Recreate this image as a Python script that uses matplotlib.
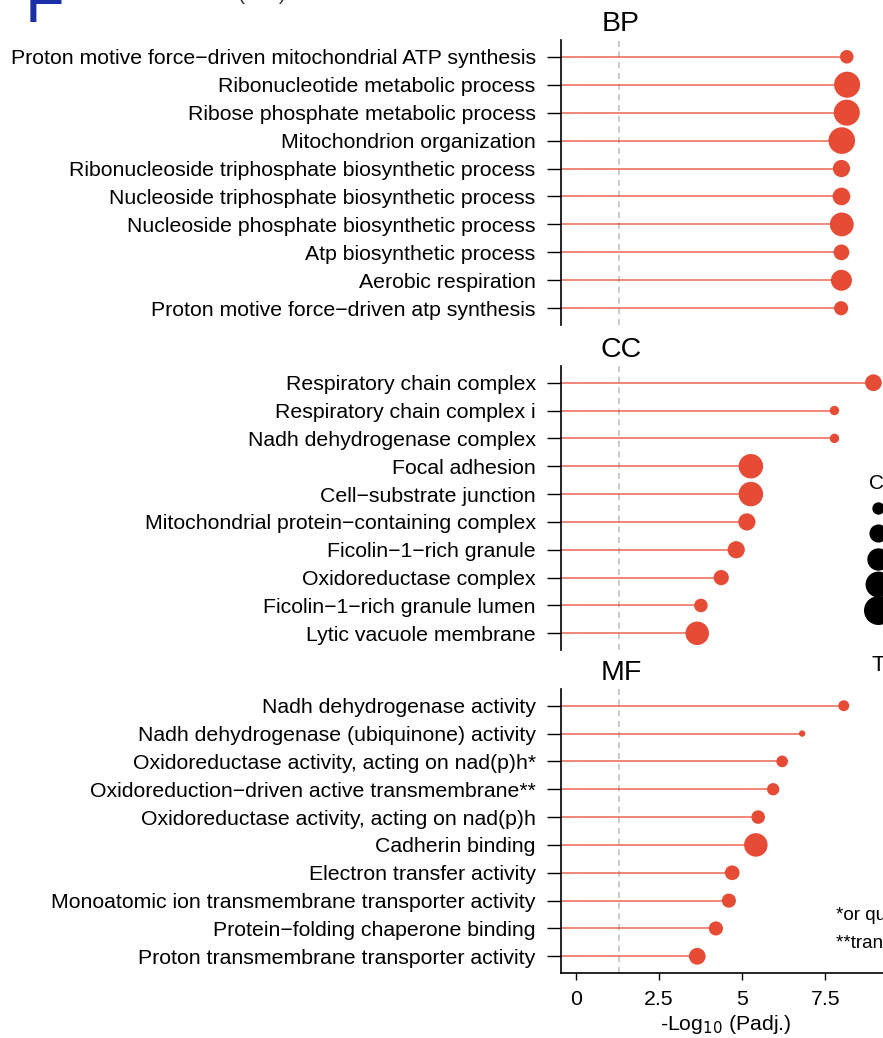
import matplotlib
matplotlib.use('Agg')
import matplotlib.pyplot as plt
from matplotlib.lines import Line2D

plt.rcParams['font.family'] = ['Liberation Sans', 'DejaVu Sans']

# GO terms (top to bottom), -log10(padj) and gene counts
bp_terms = ['Proton motive force\u2212driven mitochondrial ATP synthesis',
            'Ribonucleotide metabolic process',
            'Ribose phosphate metabolic process',
            'Mitochondrion organization',
            'Ribonucleoside triphosphate biosynthetic process',
            'Nucleoside triphosphate biosynthetic process',
            'Nucleoside phosphate biosynthetic process',
            'Atp biosynthetic process',
            'Aerobic respiration',
            'Proton motive force\u2212driven atp synthesis']
bp_logp = [8.14, 8.15, 8.14, 7.99, 7.98, 7.98, 7.99, 7.98, 7.98, 7.97]
bp_count = [14, 45, 45, 47, 21, 22, 38, 18, 30, 15]

cc_terms = ['Respiratory chain complex',
            'Respiratory chain complex i',
            'Nadh dehydrogenase complex',
            'Focal adhesion',
            'Cell\u2212substrate junction',
            'Mitochondrial protein\u2212containing complex',
            'Ficolin\u22121\u2212rich granule',
            'Oxidoreductase complex',
            'Ficolin\u22121\u2212rich granule lumen',
            'Lytic vacuole membrane']
cc_logp = [8.94, 7.77, 7.77, 5.26, 5.26, 5.14, 4.82, 4.37, 3.76, 3.65]
cc_count = [20, 8, 8, 40, 40, 21, 21, 17, 14, 37]

mf_terms = ['Nadh dehydrogenase activity',
            'Nadh dehydrogenase (ubiquinone) activity',
            'Oxidoreductase activity, acting on nad(p)h*',
            'Oxidoreduction\u2212driven active transmembrane**',
            'Oxidoreductase activity, acting on nad(p)h',
            'Cadherin binding',
            'Electron transfer activity',
            'Monoatomic ion transmembrane transporter activity',
            'Protein\u2212folding chaperone binding',
            'Proton transmembrane transporter activity']
mf_logp = [8.05, 6.80, 6.20, 5.93, 5.48, 5.41, 4.70, 4.60, 4.21, 3.65]
mf_count = [10, 5, 11, 12, 14, 37, 16, 15, 15, 20]

legend_counts = [10, 20, 30, 40, 50]
x_ticks = [0, 2.5, 5, 7.5]
x_ticklabels = ['0', '2.5', '5', '7.5']
sig_line = 1.301  # -log10(0.05)

RED = '#E64B35'
XLIM = (-0.45, 9.45)
FS = 15.3


def msize(c):
    # marker area in pt^2 (radius^2 in px ~ 4*count - 10)
    return 2.07 * (4 * c - 10)


fig = plt.figure(figsize=(8.83, 10.38), dpi=100)

W, H = 883, 1038
left = 560.7 / W
width = (890.4 - 560.7) / W
panels = [('BP', bp_terms, bp_logp, bp_count, 40, 325),
          ('CC', cc_terms, cc_logp, cc_count, 366, 650),
          ('MF', mf_terms, mf_logp, mf_count, 689, 973)]

for name, terms, vals, counts, top, bot in panels:
    ax = fig.add_axes([left, (H - bot) / H, width, (bot - top) / H])
    n = len(terms)
    ys = list(range(n, 0, -1))
    ax.axvline(sig_line, color='#BDBDBD', ls=(0, (4, 3)), lw=1.1, zorder=1)
    ax.hlines(ys, XLIM[0], vals, color=RED, alpha=0.85, lw=1.1, zorder=2)
    ax.scatter(vals, ys, s=[msize(c) for c in counts], color=RED,
               edgecolors='none', zorder=3)
    ax.set_xlim(*XLIM)
    ax.set_ylim(0.4, n + 0.6)
    ax.set_yticks(ys)
    ax.set_yticklabels(terms, fontsize=FS)
    ax.tick_params(axis='y', length=10, width=1, pad=8)
    for s in ['top', 'right']:
        ax.spines[s].set_visible(False)
    ax.spines['left'].set_linewidth(1.2)
    if name != 'MF':
        ax.spines['bottom'].set_visible(False)
        ax.set_xticks([])
    else:
        ax.spines['bottom'].set_linewidth(1.2)
        ax.set_xticks(x_ticks)
        ax.set_xticklabels(x_ticklabels, fontsize=FS)
        ax.tick_params(axis='x', length=5, width=1, pad=7)
        ax.set_xlabel('-Log$_{10}$ (Padj.)', fontsize=FS, labelpad=3)
    ax.text(0.183, 1 + 16 / (bot - top), name, transform=ax.transAxes,
            ha='center', va='center', fontsize=20.5)

# size legend (cut at the right edge like the source)
handles = [Line2D([], [], ls='none', marker='o', color='black',
                  markersize=msize(c) ** 0.5) for c in legend_counts]
fig.legend(handles, [str(c) for c in legend_counts], title='Count',
           loc='upper left', bbox_to_anchor=(856 / W, 1 - 461 / H),
           frameon=False, alignment='left', handlelength=1.0,
           handletextpad=0.8, labelspacing=0.47, fontsize=13,
           title_fontsize=15, borderpad=0.2)
fig.text(871 / W, 1 - 665 / H, 'Type', fontsize=16, va='center')

fig.text(836 / W, 1 - 915 / H, '*or quinone or similar compound as acceptor',
         fontsize=13.5, va='center')
fig.text(836 / W, 1 - 943 / H, '**transporter activity', fontsize=13.5,
         va='center')

fig.text(25 / W, 1 - 22 / H, 'F', color='#1B2FA6', fontsize=47,
         va='baseline', ha='left')
fig.text(286 / W, 1 - 0.5 / H, 'GO terms (con)', fontsize=15,
         va='baseline', ha='right', color='#333333')

fig.savefig('out.png', dpi=100)
